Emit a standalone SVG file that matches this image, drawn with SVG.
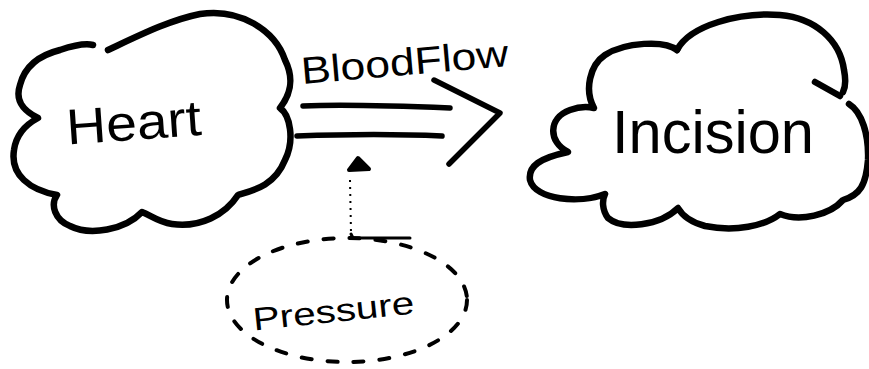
<svg xmlns="http://www.w3.org/2000/svg" width="869" height="369" viewBox="0 0 869 369">
<style>
.cloud{fill:none;stroke:#000;stroke-width:6.5;stroke-linecap:round;stroke-linejoin:round}
.ln{fill:none;stroke:#000;stroke-width:5.5;stroke-linecap:round;stroke-linejoin:round}
.lbl{font-family:"Liberation Sans","DejaVu Sans",sans-serif;fill:#000}
</style>
<rect width="869" height="369" fill="#fff"/>
<g id="heart">
<path class="cloud" d="M108,50 C140,35 170,20 200,14 C240,8 275,30 285,60 C295,80 290,95 280,108 C290,115 295,140 285,160 C275,185 255,190 238,195 C225,215 200,228 172,224 C158,222 152,216 142,212 C125,230 90,236 70,226 C55,220 50,205 57,195 C30,190 10,175 14,150 C16,135 25,125 38,118 C22,110 15,100 20,85 C25,65 40,55 60,50 C75,45 85,43 93,45"/>
<text class="lbl" x="66" y="140" font-size="50" textLength="135" lengthAdjust="spacingAndGlyphs" transform="rotate(-4 130 120)">Heart</text>
</g>
<g id="incision">
<path class="cloud" d="M677,50 C690,25 740,12 780,15 C815,18 840,40 844,70 C846,80 845,88 843,92"/>
<path class="cloud" d="M849,104 C862,112 869,135 868,160 C866,185 860,195 843,200 C830,215 800,222 780,214 C765,226 735,232 705,226 C690,222 682,215 678,208 C660,226 622,230 608,218 C602,210 602,200 605,194 C580,204 535,200 530,180 C528,166 540,158 568,152 C548,142 548,118 570,110 C578,107 586,106 594,108 C584,90 590,65 605,55 C625,42 665,40 677,50"/>
<path class="cloud" d="M815,82 L840,96"/>
<text class="lbl" x="612" y="153" font-size="62" textLength="202" lengthAdjust="spacingAndGlyphs">Incision</text>
</g>
<g id="pressure">
<ellipse cx="347" cy="300" rx="120" ry="62" fill="none" stroke="#000" stroke-width="4" stroke-dasharray="10 16" stroke-linecap="round"/>
<text class="lbl" x="252" y="322" font-size="32" textLength="162" lengthAdjust="spacingAndGlyphs" transform="rotate(-6 333 308)">Pressure</text>
</g>
<g id="connectors">
<path class="ln" d="M303,106 C350,104 400,106 450,108"/>
<path class="ln" d="M297,136 C350,134 400,134 442,136"/>
<path class="ln" d="M434,80 L500,113 L449,164"/>
<text class="lbl" x="300" y="75" font-size="38" textLength="208" lengthAdjust="spacingAndGlyphs" transform="rotate(-5 405 55)">BloodFlow</text>
<polygon points="349,170 358,158 369,169" fill="#000" stroke="#000" stroke-width="4" stroke-linejoin="round"/>
<path d="M350,180 L351,233" fill="none" stroke="#000" stroke-width="2" stroke-dasharray="2 5"/>
<path d="M351,234 L353,238 L410,238" fill="none" stroke="#000" stroke-width="3" stroke-linecap="round"/>
</g>
</svg>
